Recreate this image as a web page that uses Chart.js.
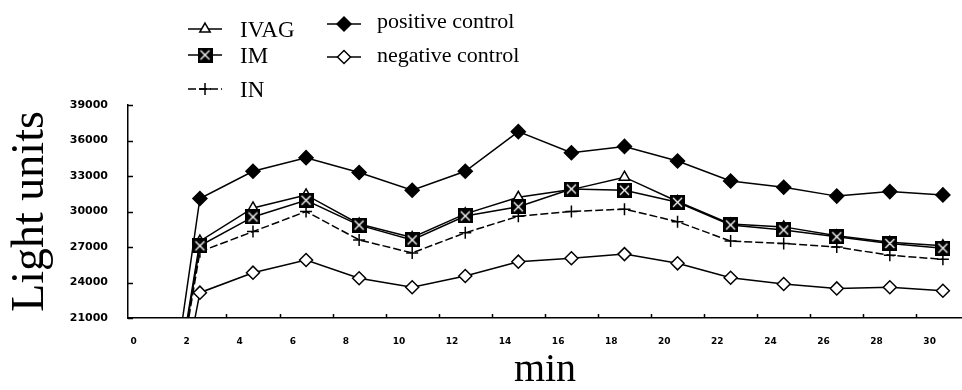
<!DOCTYPE html>
<html>
<head>
<meta charset="utf-8">
<script src="https://cdn.jsdelivr.net/npm/chart.js@4.4.0/dist/chart.umd.min.js"></script>
<style>
  html, body { margin: 0; padding: 0; background: #fff; }
</style>
</head>
<body>
<canvas id="lightChart" width="962" height="390"></canvas>
<script>
// Dados (tempo em min, unidades de luz)
const times = [0.5, 2.5, 4.5, 6.5, 8.5, 10.5, 12.5, 14.5, 16.5, 18.5, 20.5, 22.5, 24.5, 26.5, 28.5, 30.5];
const ivag    = [0, 27500, 30300, 31400, 28950, 27800, 29800, 31200, 31850, 32900, 30850, 28950, 28700, 27950, 27400, 27100];
const im      = [0, 27100, 29540, 30950, 28850, 27600, 29620, 30400, 31900, 31800, 30780, 28860, 28440, 27870, 27300, 26900];
const inSeries = [0, 26600, 28300, 30000, 27600, 26500, 28200, 29600, 30000, 30200, 29140, 27500, 27300, 27000, 26300, 25960];
const posCtrl = [0, 31100, 33400, 34550, 33300, 31800, 33400, 36750, 34970, 35500, 34270, 32580, 32050, 31300, 31680, 31400];
const negCtrl = [0, 23140, 24830, 25900, 24360, 23600, 24550, 25760, 26050, 26400, 25620, 24400, 23870, 23500, 23600, 23300];

const xTickLabels = [0, 2, 4, 6, 8, 10, 12, 14, 16, 18, 20, 22, 24, 26, 28, 30];
const xMinorTicks = [3.5, 5.5, 7.5, 9.5, 11.5, 13.5, 15.5, 17.5, 19.5, 21.5, 23.5, 25.5, 27.5, 29.5];
const yTickValues = [21000, 24000, 27000, 30000, 33000, 36000, 39000];

const serif = '"Liberation Serif", "Times New Roman", serif';

// marcador do IM: quadrado preto com X branco
function boxCross() {
    const c = document.createElement('canvas');
    c.width = 15; c.height = 15;
    const g = c.getContext('2d');
    g.fillStyle = '#000';
    g.fillRect(0, 0, 15, 15);
    g.strokeStyle = '#fff';
    g.lineWidth = 1.3;
    g.beginPath();
    g.moveTo(3, 3); g.lineTo(12, 12);
    g.moveTo(12, 3); g.lineTo(3, 12);
    g.stroke();
    return c;
}

function toPoints(arr) {
    return times.map((t, i) => ({ x: t, y: arr[i] }));
}

// legenda desenhada à mão (duas colunas)
const legendSpots = [
    { mx: 205, my: 29, tx: 240, ty: 37, size: 23 },
    { mx: 205, my: 55, tx: 240, ty: 63, size: 23 },
    { mx: 205, my: 89, tx: 240, ty: 97, size: 23 },
    { mx: 344, my: 24, tx: 377, ty: 28, size: 22 },
    { mx: 344, my: 57, tx: 377, ty: 62, size: 22 }
];

const customLegend = {
    id: 'customLegend',
    afterDraw(chart) {
        const ctx = chart.ctx;
        chart.data.datasets.forEach((ds, i) => {
            const s = legendSpots[i];
            ctx.save();
            ctx.strokeStyle = '#000';
            ctx.lineWidth = 1.5;
            ctx.setLineDash(ds.borderDash || []);
            ctx.beginPath();
            ctx.moveTo(s.mx - 17, s.my);
            ctx.lineTo(s.mx + 17, s.my);
            ctx.stroke();
            ctx.setLineDash([]);
            ctx.fillStyle = ds.pointBackgroundColor;
            ctx.strokeStyle = ds.pointBorderColor;
            ctx.lineWidth = ds.pointBorderWidth;
            Chart.helpers.drawPoint(ctx, {
                pointStyle: ds.pointStyle,
                radius: ds.pointRadius,
                rotation: 0,
                borderWidth: ds.pointBorderWidth
            }, s.mx, s.my);
            ctx.fillStyle = '#000';
            ctx.font = s.size + 'px ' + serif;
            ctx.textBaseline = 'alphabetic';
            ctx.textAlign = 'left';
            ctx.fillText(ds.label, s.tx, s.ty);
            ctx.restore();
        });
    }
};

// marcas de escala para dentro
const innerTicks = {
    id: 'innerTicks',
    afterDraw(chart) {
        const ctx = chart.ctx;
        const xs = chart.scales.x, ys = chart.scales.y;
        const area = chart.chartArea;
        ctx.save();
        ctx.strokeStyle = '#000';
        ctx.lineWidth = 1.5;
        ctx.beginPath();
        yTickValues.forEach(v => {
            const y = Math.round(ys.getPixelForValue(v)) + 0.5;
            ctx.moveTo(area.left, y);
            ctx.lineTo(area.left + 5, y);
        });
        xMinorTicks.forEach(v => {
            const x = Math.round(xs.getPixelForValue(v)) + 0.5;
            ctx.moveTo(x, area.bottom);
            ctx.lineTo(x, area.bottom - 4);
        });
        ctx.stroke();
        ctx.restore();
    }
};

const lineBase = {
    borderColor: '#000',
    borderWidth: 1.5,
    pointBorderColor: '#000',
    pointBorderWidth: 1.5,
    tension: 0,
    fill: false
};

const ctx = document.getElementById('lightChart').getContext('2d');
const lightChart = new Chart(ctx, {
    type: 'line',
    data: {
        datasets: [{
            ...lineBase,
            label: 'IVAG',
            data: toPoints(ivag),
            pointStyle: 'triangle',
            pointRadius: 6,
            pointBackgroundColor: '#fff',
            order: 1
        }, {
            ...lineBase,
            label: 'IM',
            data: toPoints(im),
            pointStyle: boxCross(),
            pointRadius: 7,
            pointBackgroundColor: '#000',
            order: 0
        }, {
            ...lineBase,
            label: 'IN',
            data: toPoints(inSeries),
            borderDash: [8, 3],
            pointStyle: 'cross',
            pointRadius: 6,
            pointBackgroundColor: '#000',
            order: 2
        }, {
            ...lineBase,
            label: 'positive control',
            data: toPoints(posCtrl),
            pointStyle: 'rectRot',
            pointRadius: 7,
            pointBackgroundColor: '#000',
            order: 2
        }, {
            ...lineBase,
            label: 'negative control',
            data: toPoints(negCtrl),
            pointStyle: 'rectRot',
            pointRadius: 6.5,
            pointBackgroundColor: '#fff',
            order: 2
        }]
    },
    options: {
        responsive: false,
        animation: false,
        devicePixelRatio: 1,
        layout: { autoPadding: false, padding: { top: 105, left: 0, right: 0, bottom: 0 } },
        plugins: {
            legend: { display: false },
            tooltip: { enabled: false }
        },
        scales: {
            x: {
                type: 'linear',
                min: -0.21,
                max: 31.22,
                afterBuildTicks: s => { s.ticks = xTickLabels.map(v => ({ value: v })); },
                afterFit: s => { s.height = 72; s.paddingLeft = 0; s.paddingRight = 0; },
                grid: { display: false, drawTicks: false },
                border: { display: true, color: '#000', width: 1.5 },
                ticks: {
                    color: '#000',
                    autoSkip: false,
                    maxRotation: 0,
                    padding: 18,
                    font: { family: '"DejaVu Sans"', size: 9, weight: 'bold' },
                    callback: v => String(v)
                },
                title: {
                    display: true,
                    text: 'min',
                    color: '#000',
                    padding: { top: 4, bottom: 0 },
                    font: { family: serif, size: 40, lineHeight: 1 }
                }
            },
            y: {
                min: 21000,
                max: 39000,
                afterBuildTicks: s => { s.ticks = yTickValues.map(v => ({ value: v })); },
                afterFit: s => { s.width = 128; },
                grid: { display: false, drawTicks: false },
                border: { display: true, color: '#000', width: 1.5 },
                ticks: {
                    color: '#000',
                    padding: 20,
                    font: { family: '"DejaVu Sans"', size: 11, weight: 'bold' },
                    callback: v => String(v)
                },
                title: {
                    display: true,
                    text: 'Light units',
                    color: '#000',
                    padding: { top: 8, bottom: 0 },
                    font: { family: serif, size: 46, lineHeight: 1 }
                }
            }
        }
    },
    plugins: [innerTicks, customLegend]
});
</script>
</body>
</html>
